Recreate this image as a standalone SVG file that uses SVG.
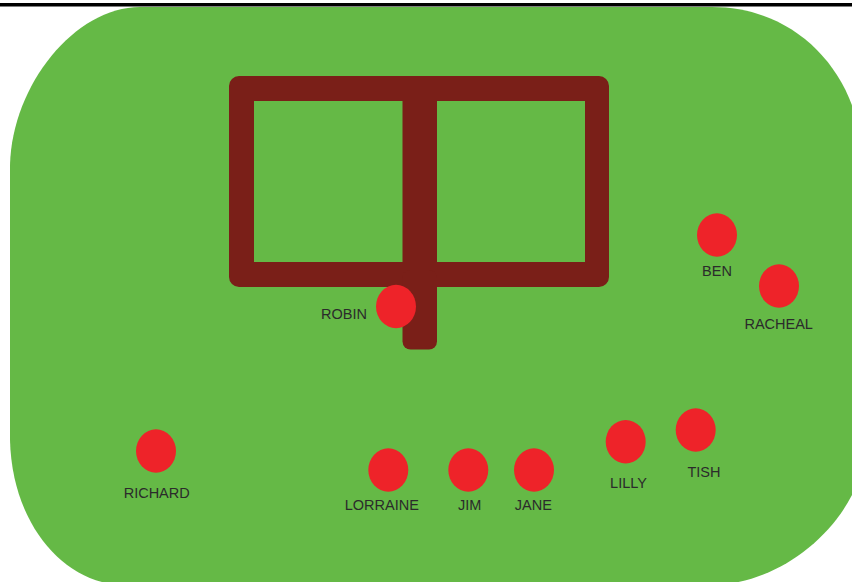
<svg xmlns="http://www.w3.org/2000/svg" width="852" height="582" viewBox="0 0 852 582">
  <style>
    .person { fill: #ee2329; }
    .label { font-family: "Liberation Sans", Arial, sans-serif; font-size: 14.5px; fill: #2b2b2b; text-anchor: middle; }
    .table { fill: #7a1f18; }
  </style>
  <rect x="0" y="0" width="852" height="582" fill="#ffffff"/>
  <rect x="0" y="3" width="852" height="3.5" fill="#000000"/>
  <path id="lawn" fill="#65b946" d="M 140 7 L 712 7 C 795 7 855 70 862 150 L 862 470 C 845 530 780 585 710 585 L 125 585 C 65 585 12 525 10 440 L 10 165 C 12 85 75 7 140 7 Z"/>
  <g id="table">
    <path class="table" fill-rule="evenodd" d="M 239 76 H 599 A 10 10 0 0 1 609 86 V 277 A 10 10 0 0 1 599 287 H 239 A 10 10 0 0 1 229 277 V 86 A 10 10 0 0 1 239 76 Z M 254 101 V 262 H 402.5 V 101 Z M 437 101 V 262 H 585 V 101 Z"/>
    <rect class="table" x="402.5" y="270" width="34.5" height="79.5" rx="8"/>
  </g>
  <g id="robin"><ellipse class="person" cx="396" cy="306.5" rx="20" ry="21.7"/><text class="label" x="344" y="319">ROBIN</text></g>
  <g id="ben"><ellipse class="person" cx="717" cy="235" rx="20" ry="21.7"/><text class="label" x="717" y="276">BEN</text></g>
  <g id="racheal"><ellipse class="person" cx="779" cy="286" rx="20" ry="21.7"/><text class="label" x="778.7" y="328.5">RACHEAL</text></g>
  <g id="richard"><ellipse class="person" cx="156" cy="451" rx="20" ry="21.7"/><text class="label" x="156.7" y="498.3">RICHARD</text></g>
  <g id="lorraine"><ellipse class="person" cx="388.3" cy="470" rx="20" ry="21.7"/><text class="label" x="381.8" y="510">LORRAINE</text></g>
  <g id="jim"><ellipse class="person" cx="468.3" cy="470" rx="20" ry="21.7"/><text class="label" x="469.7" y="510">JIM</text></g>
  <g id="jane"><ellipse class="person" cx="534" cy="470" rx="20" ry="21.7"/><text class="label" x="533.3" y="510">JANE</text></g>
  <g id="lilly"><ellipse class="person" cx="625.7" cy="441.7" rx="20" ry="21.7"/><text class="label" x="628.5" y="488.3">LILLY</text></g>
  <g id="tish"><ellipse class="person" cx="695.7" cy="430" rx="20" ry="21.7"/><text class="label" x="704" y="476.7">TISH</text></g>
  <g id="connectors"/>
</svg>
